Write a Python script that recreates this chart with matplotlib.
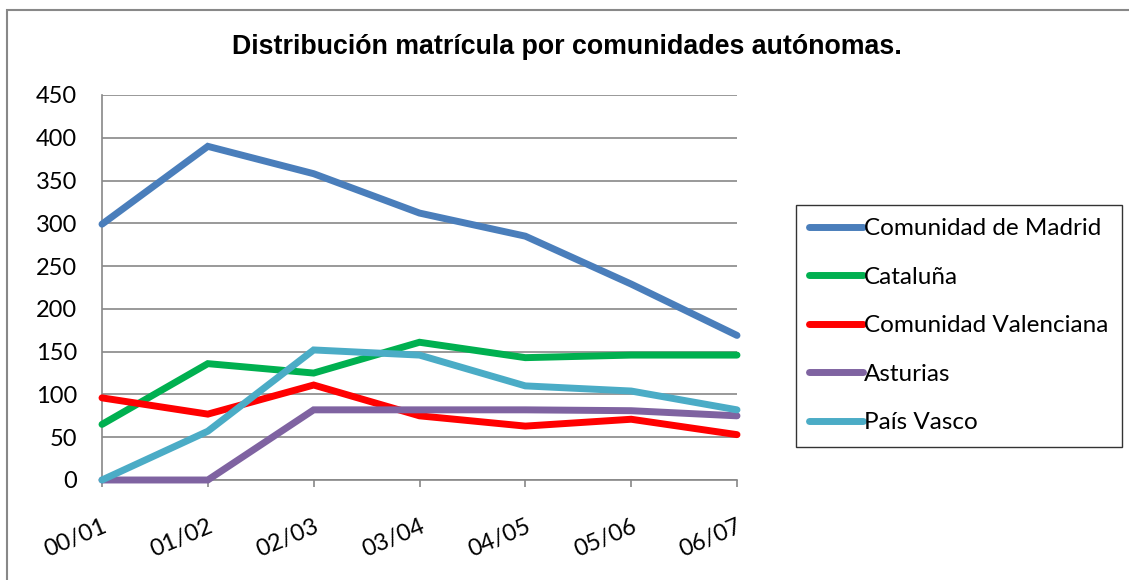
import matplotlib.pyplot as plt
from matplotlib.patches import Rectangle

years = ['00/01', '01/02', '02/03', '03/04', '04/05', '05/06', '06/07']
madrid = [299, 390, 358, 312, 285, 229, 169]
cataluna = [65, 136, 125, 161, 143, 146, 146]
valenciana = [96, 77, 111, 75, 63, 71, 53]
asturias = [0, 0, 82, 82, 82, 81, 75]
pais_vasco = [0, 57, 152, 146, 110, 104, 82]

series = [
    ('Comunidad de Madrid', madrid, '#4a7ebb'),
    ('Cataluña', cataluna, '#00b050'),
    ('Comunidad Valenciana', valenciana, '#ff0000'),
    ('Asturias', asturias, '#7f63a1'),
    ('País Vasco', pais_vasco, '#4bacc6'),
]

plt.rcParams['font.family'] = ['Lato', 'DejaVu Sans']

fig = plt.figure(figsize=(11.29, 5.80), dpi=100)
ax = fig.add_axes([102 / 1129, 1 - 480 / 580, (737 - 102) / 1129, (480 - 95) / 580])

x = list(range(len(years)))
for name, vals, col in series:
    ax.plot(x, vals, color=col, lw=5, label=name, solid_capstyle='round',
            solid_joinstyle='miter', clip_on=False, zorder=3)

ax.set_xlim(0, len(years) - 1)
ax.set_ylim(0, 450)
ax.set_yticks(range(0, 451, 50))
ax.set_xticks(x)
ax.set_xticklabels(years, rotation=23, ha='right', rotation_mode='anchor')
ax.grid(axis='y', color='#888888', lw=1.2)
ax.set_axisbelow(True)
for s in ['top', 'right']:
    ax.spines[s].set_visible(False)
for s in ['left', 'bottom']:
    ax.spines[s].set_color('#888888')
    ax.spines[s].set_linewidth(1.2)
ax.tick_params(axis='y', length=0, pad=18, labelsize=17)
ax.tick_params(axis='x', length=5, width=1.2, color='#888888', pad=21, labelsize=17)

fig.text(567 / 1129, 1 - 47 / 580, 'Distribución matrícula por comunidades autónomas.',
         ha='center', va='center', fontsize=19.3, fontweight='bold',
         family=['Liberation Sans', 'DejaVu Sans'])

leg = ax.legend(loc='upper left', bbox_to_anchor=(796 / 1129, 1 - 205 / 580),
                bbox_transform=fig.transFigure, borderaxespad=0, fontsize=17.5,
                handlelength=2.2, handletextpad=0.05, labelspacing=1.13,
                borderpad=0.55, fancybox=False, frameon=True)
leg.get_frame().set_edgecolor('#000000')
leg.get_frame().set_linewidth(1.0)

# outer chart frame
fig.patches.append(Rectangle((7 / 1129, -0.1), 1.2, 1 - 10 / 580 + 0.1,
                             transform=fig.transFigure, fill=False,
                             edgecolor='#888888', lw=1.5))

fig.savefig('out.png', dpi=100)
